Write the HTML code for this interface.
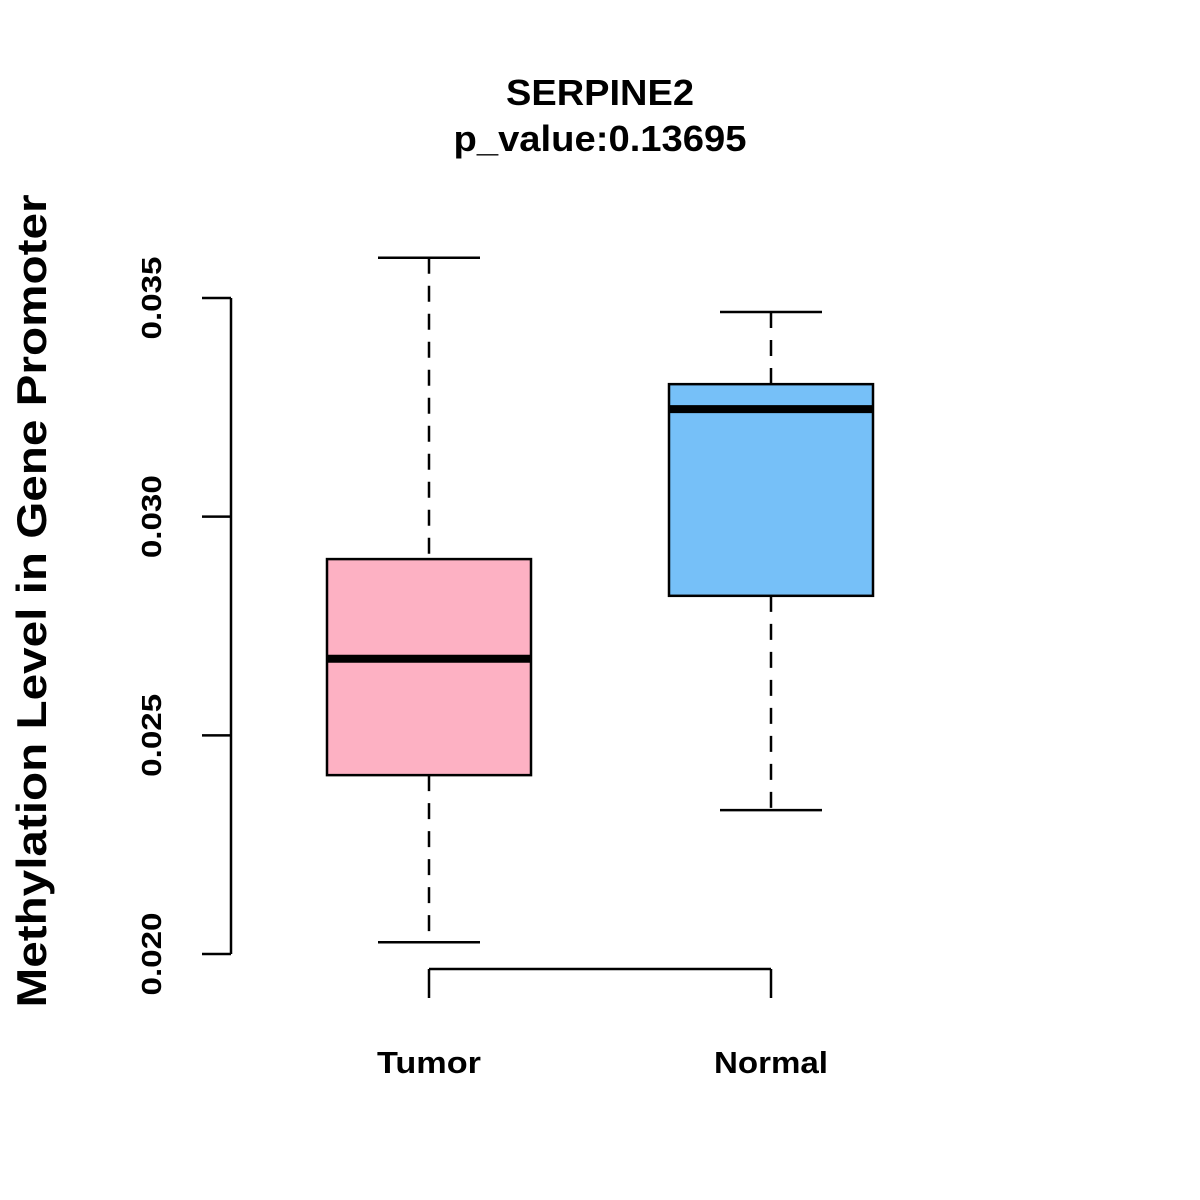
<!DOCTYPE html>
<html><head><meta charset="utf-8"><style>
html,body{margin:0;padding:0;background:#fff;}
svg{display:block;font-family:"Liberation Sans",Arial,sans-serif;}
</style></head><body>
<svg id="chart" width="1200" height="1200" viewBox="0 0 1200 1200">
<rect width="1200" height="1200" fill="#fff"/>
<text x="600" y="105" text-anchor="middle" font-size="36" font-weight="bold" textLength="188" lengthAdjust="spacingAndGlyphs">SERPINE2</text>
<text x="600" y="151" text-anchor="middle" font-size="36" font-weight="bold" textLength="293" lengthAdjust="spacingAndGlyphs">p_value:0.13695</text>
<text transform="translate(46,601) rotate(-90)" text-anchor="middle" font-size="42" font-weight="bold" textLength="813" lengthAdjust="spacingAndGlyphs">Methylation Level in Gene Promoter</text>
<g id="plot"></g>
</svg>
<script>
const categories = ["Tumor", "Normal"];
const whiskerLow = [0.02027, 0.02329];
const q1 = [0.02409, 0.02819];
const medians = [0.02675, 0.03246];
const q3 = [0.02903, 0.03303];
const whiskerHigh = [0.03592, 0.03468];
const colors = ["#FDB1C3", "#76C0F8"];
const yTicks = [0.020, 0.025, 0.030, 0.035];
const yTickLabels = ["0.020", "0.025", "0.030", "0.035"];

const NS = "http://www.w3.org/2000/svg";
const g = document.getElementById("plot");
function y(v){ return 954 - (v - 0.020) / 0.015 * 656; }
function x(i){ return 429 + i * 342; }
function mk(tag, attrs, parent){
  const e = document.createElementNS(NS, tag);
  for (const k in attrs) e.setAttribute(k, attrs[k]);
  (parent || g).appendChild(e);
  return e;
}
let ax = mk("line", {x1:231, x2:231, y1:y(yTicks[yTicks.length-1]), y2:y(yTicks[0]), stroke:"#000", "stroke-width":2.5});


yTicks.forEach((t, i) => {
  const tk = mk("line", {x1:202, x2:231, y1:y(t), y2:y(t), stroke:"#000", "stroke-width":2.5});
  
  
  const tl = mk("text", {transform:`translate(161,${y(t)}) rotate(-90)`, "text-anchor":"middle", "font-size":28, "font-weight":"bold", textLength:83, lengthAdjust:"spacingAndGlyphs"});
  tl.textContent = yTickLabels[i];
  
  
});
const xa = mk("line", {x1:x(0), x2:x(categories.length-1), y1:969, y2:969, stroke:"#000", "stroke-width":2.5});


const labelW = [104, 114];
categories.forEach((c, i) => {
  const cx = x(i);
  const tk = mk("line", {x1:cx, x2:cx, y1:969, y2:998, stroke:"#000", "stroke-width":2.5});
  
  
  const tl = mk("text", {x:cx, y:1073, "text-anchor":"middle", "font-size":31, "font-weight":"bold", textLength:labelW[i], lengthAdjust:"spacingAndGlyphs"});
  tl.textContent = c;
  
  
  const grp = mk("g", {});
  
  
  mk("line", {x1:cx, x2:cx, y1:y(whiskerHigh[i]), y2:y(q3[i]), stroke:"#000", "stroke-width":2.5, "stroke-dasharray":"16,12"}, grp);
  mk("line", {x1:cx, x2:cx, y1:y(q1[i]), y2:y(whiskerLow[i]), stroke:"#000", "stroke-width":2.5, "stroke-dasharray":"16,12"}, grp);
  mk("line", {x1:cx-51, x2:cx+51, y1:y(whiskerHigh[i]), y2:y(whiskerHigh[i]), stroke:"#000", "stroke-width":2.5}, grp);
  mk("line", {x1:cx-51, x2:cx+51, y1:y(whiskerLow[i]), y2:y(whiskerLow[i]), stroke:"#000", "stroke-width":2.5}, grp);
  mk("rect", {x:cx-102, y:y(q3[i]), width:204, height:y(q1[i])-y(q3[i]), fill:colors[i], stroke:"#000", "stroke-width":2.5}, grp);
  mk("line", {x1:cx-102, x2:cx+102, y1:y(medians[i]), y2:y(medians[i]), stroke:"#000", "stroke-width":8}, grp);
});
</script>
</body></html>
